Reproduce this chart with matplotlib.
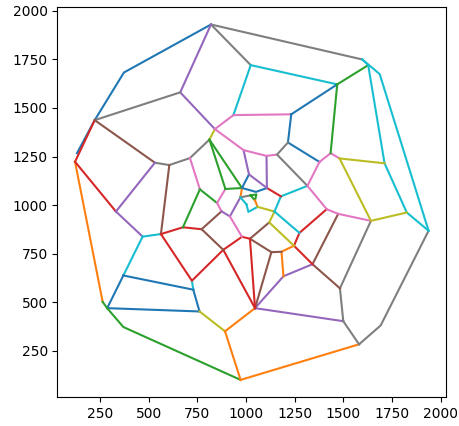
import matplotlib
matplotlib.use("Agg")
import matplotlib.pyplot as plt

# vertex coordinates (data units)
vertices = {
    "P1": (820, 1929), "P2": (373, 1682), "P3": (223, 1437), "P4": (662, 1580),
    "P5": (132, 1267), "P6": (122, 1223), "P7": (840, 1391), "P8": (812, 1337),
    "P9": (532, 1218), "P10": (606, 1206), "P11": (712, 1242), "P12": (332, 967),
    "P13": (563, 851), "P14": (763, 1081), "P15": (676, 886), "P16": (469, 838),
    "P17": (772, 876), "P18": (851, 1011),
    "Q1": (1597, 1749), "Q2": (1024, 1720), "Q3": (1627, 1720), "Q4": (1686, 1674),
    "Q5": (1468, 1621), "Q6": (935, 1463), "Q7": (1232, 1467), "Q8": (1434, 1267),
    "Q9": (1215, 1322), "Q10": (1377, 1222), "Q11": (1159, 1260), "Q12": (1315, 1099),
    "Q13": (1480, 1240), "Q14": (1711, 1215), "Q15": (987, 1283), "Q16": (1105, 1253),
    "Q17": (1015, 1158), "Q18": (1107, 1088), "Q19": (979, 1088), "Q20": (1051, 1068),
    "Q21": (1179, 1045), "Q22": (1146, 967), "Q23": (1274, 857),
    "C1": (1119, 911), "C2": (894, 1083), "C4": (874, 968), "C5": (971, 1040),
    "C6": (917, 942), "C9": (979, 837), "C10": (1020, 827), "C11": (883, 770),
    "C12": (722, 611), "C15": (1059, 991), "C16": (1002, 1004), "C17": (1012, 965),
    "T1": (1023, 1050), "T2": (1053, 1055), "T3": (1046, 1024),
    "B1": (264, 502), "L2": (287, 470), "B2": (370, 373), "B3": (972, 101),
    "B4": (1580, 284), "B5": (1691, 381), "B6": (1937, 868), "B7": (1499, 403),
    "B8": (1046, 470), "B9": (1482, 572), "B10": (1341, 696), "B11": (1641, 919),
    "B12": (1825, 962), "B13": (1414, 979), "B14": (1473, 955), "B15": (892, 351),
    "B16": (761, 453), "B17": (1192, 634), "B18": (1182, 760), "B19": (1246, 791),
    "B20": (1130, 758), "L1": (370, 638), "L3": (729, 565),
}

# polylines (vertex sequences)
paths = [
    ["P1", "P2", "P3", "P5"], ["P1", "Q1"], ["P1", "Q2"], ["P1", "P4", "P7"],
    ["P3", "P4"], ["P3", "P6"], ["P3", "P9"], ["P9", "P10", "P11", "P8"],
    ["P8", "P7"], ["P6", "B1"], ["P6", "P12"], ["P9", "P12"], ["P12", "P16"],
    ["P10", "P13"], ["P16", "P13"], ["P16", "L1"], ["L1", "L2"], ["L1", "L3"],
    ["L3", "C12"], ["L3", "B16"], ["L2", "B16"], ["B1", "L2", "B2", "B3"],
    ["B16", "B15"], ["B15", "B3"], ["B15", "B8"], ["B3", "B4"],
    ["B4", "B5", "B6"], ["B4", "B7"], ["B8", "B7"], ["B7", "B9"], ["B9", "B11"],
    ["B9", "B10", "B14"], ["B8", "B17", "B10"], ["B10", "B19"],
    ["B19", "Q23", "B13"], ["B17", "B18", "B19"], ["B18", "B20"], ["B20", "B8"],
    ["B20", "C10"], ["C10", "C1"], ["Q22", "C1", "B19"], ["C9", "C10", "B8"],
    ["C9", "C11", "B8"], ["P13", "C12", "C11"], ["P13", "P15", "P17"],
    ["P17", "C11"], ["P17", "C4"], ["P14", "P15"], ["P11", "P14"],
    ["P14", "P18"], ["C2", "P18", "C4"], ["C4", "C6", "C5"], ["C6", "C9"],
    ["P8", "C2"], ["P8", "Q19"], ["C2", "Q19"], ["Q19", "C5"], ["C5", "T1"],
    ["T1", "T2", "T3", "T1"], ["T3", "C15"], ["C16", "C17", "C15"],
    ["C16", "C5"], ["C15", "Q22"], ["Q22", "Q23"], ["Q21", "Q22"],
    ["Q21", "Q12"], ["Q18", "Q21"], ["Q17", "Q19", "Q20", "Q18"],
    ["Q15", "Q17", "Q18"], ["Q16", "Q18"], ["P7", "Q15", "Q16", "Q11"],
    ["P7", "Q6"], ["Q2", "Q6"], ["Q2", "Q5"], ["Q6", "Q7"], ["Q7", "Q5"],
    ["Q7", "Q9", "Q10"], ["Q9", "Q11", "Q12"], ["Q10", "Q8", "Q13"],
    ["Q10", "Q12", "B13", "B14", "B11"], ["Q5", "Q3"], ["Q5", "Q8"],
    ["Q1", "Q3"], ["Q1", "Q4", "B6"], ["Q3", "Q14", "B12", "B6"],
    ["Q13", "Q14"], ["Q13", "B11", "B12"],
]

path_colors = [
    "C0", "C7", "C7", "C4",
    "C7", "C3", "C5", "C7",
    "C8", "C1", "C3", "C4", "C4",
    "C5", "C9", "C9", "C0", "C0",
    "C9", "C0", "C0", "C2",
    "C8", "C1", "C1", "C1",
    "C7", "C7", "C4", "C7", "C7",
    "C5", "C4", "C3",
    "C3", "C1", "C5", "C5",
    "C5", "C5", "C8", "C3",
    "C3", "C3", "C3",
    "C5", "C5", "C2", "C6",
    "C2", "C6", "C4", "C6",
    "C2", "C2", "C2", "C1", "C7",
    "C2", "C1", "C9",
    "C9", "C8", "C9", "C9",
    "C9", "C3", "C0",
    "C4", "C4", "C6",
    "C6", "C9", "C9", "C6", "C0",
    "C0", "C7", "C6",
    "C6", "C2", "C2",
    "C9", "C9", "C9",
    "C8", "C8",
]

fig = plt.figure(figsize=(4.59, 4.26), dpi=100)
ax = fig.add_axes([57.5 / 459, 29 / 426, 389 / 459, 390 / 426])
for path, col in zip(paths, path_colors):
    xs = [vertices[v][0] for v in path]
    ys = [vertices[v][1] for v in path]
    ax.plot(xs, ys, color=col, lw=1.5)

ax.set_xlim(32, 2029)
ax.set_ylim(13, 2019)
ax.set_xticks([250, 500, 750, 1000, 1250, 1500, 1750, 2000])
ax.set_yticks([250, 500, 750, 1000, 1250, 1500, 1750, 2000])
fig.savefig("out.png", dpi=100)
